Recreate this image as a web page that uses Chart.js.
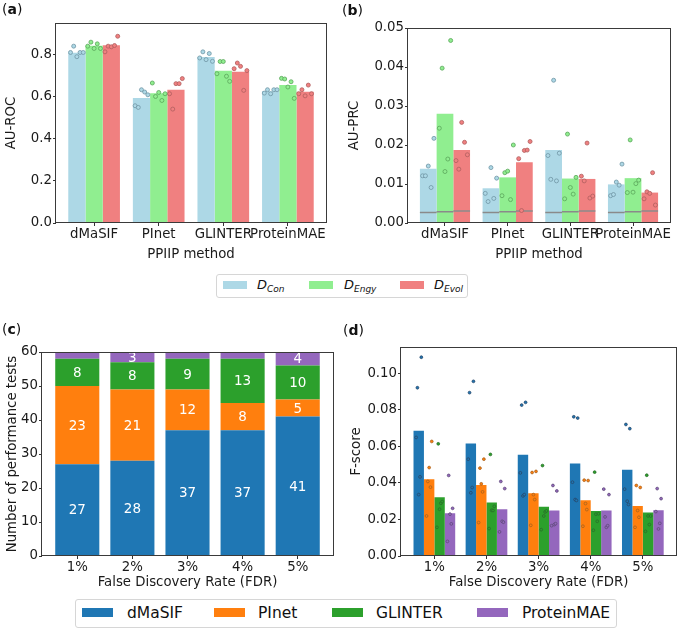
<!DOCTYPE html>
<html>
<head>
<meta charset="utf-8">
<script src="https://cdn.jsdelivr.net/npm/chart.js@4.4.1/dist/chart.umd.min.js"></script>
<style>
  body { margin: 0; background: #fff; }
  #fig { position: relative; width: 681px; height: 630px; font-family: 'DejaVu Sans', sans-serif; color: #111; overflow: hidden; }
  .panel { position: absolute; }
  .tag { position: absolute; font-size: 14px; line-height: 16px; }
  .legend { position: absolute; border: 1px solid #d6d6d6; border-radius: 3px; background: #fff; box-sizing: border-box; }
  .sw { position: absolute; }
  .lt { position: absolute; white-space: nowrap; }
  .lt sub { font-size: 9px; vertical-align: -3px; }
</style>
</head>
<body>
<div id="fig">
  <div class="panel" style="left:0;top:0"><canvas id="chartA" width="340" height="265"></canvas></div>
  <div class="panel" style="left:340px;top:0"><canvas id="chartB" width="341" height="265"></canvas></div>
  <div class="panel" style="left:0;top:300px"><canvas id="chartC" width="340" height="292"></canvas></div>
  <div class="panel" style="left:340px;top:300px"><canvas id="chartD" width="341" height="292"></canvas></div>

  <div class="tag" style="left:2px;top:1px">(<b>a</b>)</div>
  <div class="tag" style="left:342px;top:2px">(<b>b</b>)</div>
  <div class="tag" style="left:2px;top:321px">(<b>c</b>)</div>
  <div class="tag" style="left:343px;top:322px">(<b>d</b>)</div>

  <!-- legend for (a) and (b) -->
  <div class="legend" style="left:216px;top:274px;width:252px;height:24px;font-size:13px">
    <div class="sw" style="left:6px;top:6px;width:24px;height:8px;background:#add8e6"></div>
    <div class="lt" style="left:40px;top:2px"><i>D</i><sub><i>Con</i></sub></div>
    <div class="sw" style="left:92px;top:6px;width:24px;height:8px;background:#90ee90"></div>
    <div class="lt" style="left:127px;top:2px"><i>D</i><sub><i>Engy</i></sub></div>
    <div class="sw" style="left:183px;top:6px;width:24px;height:8px;background:#f08080"></div>
    <div class="lt" style="left:217px;top:2px"><i>D</i><sub><i>Evol</i></sub></div>
  </div>

  <!-- legend for (c) and (d) -->
  <div class="legend" style="left:75px;top:599px;width:542px;height:29px;font-size:15.5px">
    <div class="sw" style="left:6px;top:8px;width:31px;height:9px;background:#1f77b4"></div>
    <div class="lt" style="left:51px;top:4px">dMaSIF</div>
    <div class="sw" style="left:138px;top:8px;width:31px;height:9px;background:#ff7f0e"></div>
    <div class="lt" style="left:182px;top:4px">PInet</div>
    <div class="sw" style="left:256px;top:8px;width:31px;height:9px;background:#2ca02c"></div>
    <div class="lt" style="left:300px;top:4px">GLINTER</div>
    <div class="sw" style="left:401px;top:8px;width:31px;height:9px;background:#9467bd"></div>
    <div class="lt" style="left:446px;top:4px">ProteinMAE</div>
  </div>
</div>

<script>
// Métodos e níveis de FDR
const methods = ['dMaSIF', 'PInet', 'GLINTER', 'ProteinMAE'];
const fdrLevels = ['1%', '2%', '3%', '4%', '5%'];

// (a) AU-ROC: média por conjunto de dados
const rocCon = [0.809, 0.594, 0.789, 0.626];
const rocEngy = [0.842, 0.616, 0.723, 0.656];
const rocEvol = [0.844, 0.633, 0.718, 0.624];
// (a) execuções individuais
const rocConRuns = [[0.81, 0.84, 0.79, 0.81, 0.81], [0.557, 0.549, 0.633, 0.622, 0.609], [0.784, 0.813, 0.776, 0.805, 0.768], [0.617, 0.633, 0.614, 0.633, 0.633]];
const rocEngyRuns = [[0.84, 0.859, 0.829, 0.851, 0.829], [0.665, 0.601, 0.62, 0.582, 0.614], [0.709, 0.767, 0.767, 0.697, 0.673], [0.687, 0.684, 0.646, 0.671, 0.592]];
const rocEvolRuns = [[0.813, 0.84, 0.837, 0.843, 0.887], [0.614, 0.541, 0.662, 0.662, 0.686], [0.733, 0.76, 0.744, 0.63, 0.724], [0.614, 0.633, 0.604, 0.655, 0.614]];
const rocTicks = [0, 0.2, 0.4, 0.6, 0.8];

// (b) AU-PRC
const prcCon = [0.0139, 0.0089, 0.0187, 0.0099];
const prcEngy = [0.0280, 0.0117, 0.0114, 0.0115];
const prcEvol = [0.0187, 0.0156, 0.0113, 0.0078];
const prcConRuns = [[0.0121, 0.0121, 0.0146, 0.0091, 0.0217], [0.0076, 0.0055, 0.0142, 0.0063, 0.0115], [0.0173, 0.0112, 0.0366, 0.0108, 0.0179], [0.007, 0.0073, 0.0105, 0.0097, 0.0151]];
const prcEngyRuns = [[0.0243, 0.0397, 0.0132, 0.0164, 0.0468], [0.007, 0.0129, 0.0133, 0.006, 0.02], [0.0062, 0.0228, 0.0091, 0.0074, 0.0117], [0.0078, 0.0213, 0.0079, 0.0101, 0.011]];
const prcEvolRuns = [[0.016, 0.0138, 0.0258, 0.0207, 0.0175], [0.0165, 0.0032, 0.0186, 0.0187, 0.0209], [0.012, 0.0108, 0.0205, 0.0064, 0.0069], [0.0062, 0.008, 0.0076, 0.0129, 0.0046]];
// linha de referência aleatória (Con, Engy, Evol)
const prcRandom = [0.0027, 0.0029, 0.0031];
const prcTicks = [0, 0.01, 0.02, 0.03, 0.04, 0.05];

// (c) número de testes em que cada método foi o melhor
const countDmasif = [27, 28, 37, 37, 41];
const countPinet = [23, 21, 12, 8, 5];
const countGlinter = [8, 8, 9, 13, 10];
const countProteinmae = [2, 3, 2, 2, 4];
const countTicks = [0, 10, 20, 30, 40, 50, 60];

// (d) F-score
const fDmasif = [0.0686, 0.0616, 0.0554, 0.0506, 0.0472];
const fPinet = [0.042, 0.0388, 0.0344, 0.0305, 0.0274];
const fGlinter = [0.0322, 0.0293, 0.0269, 0.0247, 0.0238];
const fProteinmae = [0.0234, 0.0256, 0.0249, 0.0249, 0.025];
const fDmasifRuns = [[0.0649, 0.0921, 0.0336, 0.0433, 0.1088], [0.053, 0.0894, 0.0346, 0.0375, 0.0956], [0.0455, 0.0826, 0.0329, 0.0336, 0.0841], [0.0404, 0.0762, 0.0309, 0.0304, 0.0755], [0.0366, 0.072, 0.030, 0.0282, 0.0697]];
const fPinetRuns = [[0.0219, 0.0408, 0.0484, 0.0377, 0.0627], [0.0183, 0.0481, 0.0395, 0.0351, 0.053], [0.0168, 0.0457, 0.0336, 0.0309, 0.0463], [0.0163, 0.0415, 0.0287, 0.0254, 0.0413], [0.0157, 0.0386, 0.0249, 0.0212, 0.0375]];
const fGlinterRuns = [[0.0157, 0.0614, 0.0256, 0.0289, 0.0298], [0.015, 0.0556, 0.025, 0.0249, 0.0272], [0.0144, 0.0495, 0.0219, 0.0241, 0.0247], [0.0141, 0.0459, 0.0229, 0.019, 0.0231], [0.0135, 0.0442, 0.0219, 0.0172, 0.0219]];
const fProteinmaeRuns = [[0.008, 0.0441, 0.0229, 0.0176, 0.0261], [0.0132, 0.0408, 0.019, 0.0185, 0.0369], [0.0166, 0.0386, 0.0172, 0.0177, 0.0356], [0.0366, 0.0214, 0.0157, 0.0166, 0.0336], [0.0243, 0.0369, 0.0148, 0.0179, 0.0314]];
const fTicks = [0, 0.02, 0.04, 0.06, 0.08, 0.10];

// Cores
const lightColors = ['#add8e6', '#90ee90', '#f08080'];
const lightEdges = ['#7095a5', '#5aa65a', '#b05e5e'];
const tabColors = ['#1f77b4', '#ff7f0e', '#2ca02c', '#9467bd'];
const tabEdges = ['#28476a', '#a8621e', '#2a6d2a', '#5e4a78'];

Chart.defaults.font.family = "'DejaVu Sans', sans-serif";
Chart.defaults.font.size = 13.3;
Chart.defaults.color = '#1a1a1a';
Chart.defaults.animation = false;
Chart.defaults.plugins.legend.display = false;
Chart.defaults.plugins.tooltip.enabled = false;

// Moldura completa em volta da área do gráfico (como no matplotlib)
const framePlugin = {
    id: 'frame',
    afterDraw(chart) {
        const a = chart.chartArea;
        const ctx = chart.ctx;
        ctx.save();
        ctx.strokeStyle = '#3a3a3a';
        ctx.lineWidth = 1;
        ctx.strokeRect(Math.round(a.left) - 0.5, Math.round(a.top) + 0.5,
            Math.round(a.right - a.left) + 1, Math.round(a.bottom - a.top) - 1);
        ctx.restore();
    }
};

// Rótulos brancos dentro das barras empilhadas
const countLabels = {
    id: 'countLabels',
    afterDatasetsDraw(chart) {
        const ctx = chart.ctx;
        ctx.save();
        ctx.fillStyle = '#fff';
        ctx.font = "13.5px 'DejaVu Sans'";
        ctx.textAlign = 'center';
        ctx.textBaseline = 'middle';
        chart.data.datasets.forEach((ds, d) => {
            chart.getDatasetMeta(d).data.forEach((bar, i) => {
                const v = ds.data[i].y;
                if (v >= 3) ctx.fillText(v, bar.x, (bar.y + bar.base) / 2 + 1);
            });
        });
        ctx.restore();
    }
};

function xAxis(labels, title, height, titlePad) {
    // margem de 5% como o matplotlib faz em volta das barras
    const pad = 0.05 * (labels.length - 1 + 0.8);
    return {
        type: 'linear',
        min: -0.4 - pad,
        max: labels.length - 0.6 + pad,
        offset: false,
        grid: { drawOnChartArea: false, tickLength: 3, color: '#333', offset: false },
        border: { display: false },
        afterBuildTicks: s => { s.ticks = labels.map((l, i) => ({ value: i })); },
        ticks: { autoSkip: false, maxRotation: 0, padding: 1, callback: v => labels[v] },
        title: { display: true, text: title, padding: { top: 0, bottom: titlePad } },
        afterFit: s => { s.height = height; }
    };
}

function yAxis(ticks, max, digits, title, width, titlePad) {
    return {
        min: 0,
        max: max,
        grid: { drawOnChartArea: false, tickLength: 3, color: '#333' },
        border: { display: false },
        afterBuildTicks: s => { s.ticks = ticks.map(v => ({ value: v })); },
        ticks: { padding: 1, callback: v => Number(v).toFixed(digits) },
        title: { display: true, text: title, padding: { top: titlePad, bottom: 0 } },
        afterFit: s => { s.width = width; }
    };
}

function barSet(label, vals, color) {
    return {
        type: 'bar',
        label: label,
        data: vals.map((y, i) => ({ x: i, y: y })),
        backgroundColor: color,
        borderWidth: 0,
        categoryPercentage: 0.8,
        barPercentage: 1,
        order: 2
    };
}

// Pontos das execuções, espalhados de forma regular dentro da barra
function runDots(runs, k, nBars, fill, edge, spread, radius) {
    const w = 0.8 / nBars;
    const pts = [];
    runs.forEach((vals, i) => {
        vals.forEach((y, j) => {
            const jitter = (j / (vals.length - 1) - 0.5) * spread * w;
            pts.push({ x: i + (k - (nBars - 1) / 2) * w + jitter, y: y });
        });
    });
    return {
        type: 'scatter',
        data: pts,
        pointRadius: radius,
        pointBorderWidth: 0.8,
        pointBackgroundColor: fill,
        pointBorderColor: edge,
        order: 0
    };
}

function baselineSegments(level, k, nBars, n) {
    const w = 0.8 / nBars;
    const pts = [];
    for (let i = 0; i < n; i++) {
        const c = i + (k - (nBars - 1) / 2) * w;
        pts.push({ x: c - w / 2, y: level }, { x: c + w / 2, y: level }, { x: c + w / 2, y: null });
    }
    return {
        type: 'line',
        data: pts,
        borderColor: '#8a8a8a',
        borderWidth: 1.5,
        pointRadius: 0,
        spanGaps: false,
        order: 1
    };
}

// (a) AU-ROC
const rocMeans = [rocCon, rocEngy, rocEvol];
const rocRuns = [rocConRuns, rocEngyRuns, rocEvolRuns];
new Chart(document.getElementById('chartA'), {
    type: 'bar',
    data: {
        datasets: [
            ...rocRuns.map((r, k) => runDots(r, k, 3, lightColors[k], lightEdges[k], 0.74, 2)),
            ...rocMeans.map((m, k) => barSet('D' + k, m, lightColors[k]))
        ]
    },
    options: {
        responsive: false,
        layout: { padding: { left: 0, top: 23, right: 14, bottom: 0 } },
        scales: {
            x: xAxis(methods, 'PPIIP method', 42, 2),
            y: yAxis(rocTicks, 0.95, 1, 'AU-ROC', 56, 3.5)
        }
    },
    plugins: [framePlugin]
});

// (b) AU-PRC
const prcMeans = [prcCon, prcEngy, prcEvol];
const prcRuns = [prcConRuns, prcEngyRuns, prcEvolRuns];
new Chart(document.getElementById('chartB'), {
    type: 'bar',
    data: {
        datasets: [
            ...prcRuns.map((r, k) => runDots(r, k, 3, lightColors[k], lightEdges[k], 0.68, 2)),
            ...prcRandom.map((lv, k) => baselineSegments(lv, k, 3, methods.length)),
            ...prcMeans.map((m, k) => barSet('D' + k, m, lightColors[k]))
        ]
    },
    options: {
        responsive: false,
        layout: { padding: { left: 0, top: 28, right: 11, bottom: 0 } },
        scales: {
            x: xAxis(methods, 'PPIIP method', 42, 2),
            y: yAxis(prcTicks, 0.05, 2, 'AU-PRC', 68, 6.5)
        }
    },
    plugins: [framePlugin]
});

// (c) contagem empilhada
const counts = [countDmasif, countPinet, countGlinter, countProteinmae];
const xC = xAxis(fdrLevels, 'False Discovery Rate (FDR)', 36, 1);
xC.stacked = true;
const yC = yAxis(countTicks, 60, 0, 'Number of performance tests', 42, 4.5);
yC.stacked = true;
new Chart(document.getElementById('chartC'), {
    type: 'bar',
    data: {
        datasets: counts.map((c, k) => barSet(methods[k], c, tabColors[k]))
    },
    options: {
        responsive: false,
        layout: { padding: { left: 0, top: 52, right: 7, bottom: 0 } },
        scales: { x: xC, y: yC }
    },
    plugins: [countLabels, framePlugin]
});

// (d) F-score
const fMeans = [fDmasif, fPinet, fGlinter, fProteinmae];
const fRuns = [fDmasifRuns, fPinetRuns, fGlinterRuns, fProteinmaeRuns];
new Chart(document.getElementById('chartD'), {
    type: 'bar',
    data: {
        datasets: [
            ...fRuns.map((r, k) => runDots(r, k, 4, tabColors[k], tabEdges[k], 0.5, 1.4)),
            ...fMeans.map((m, k) => barSet(methods[k], m, tabColors[k]))
        ]
    },
    options: {
        responsive: false,
        layout: { padding: { left: 0, top: 47, right: 4, bottom: 0 } },
        scales: {
            x: xAxis(fdrLevels, 'False Discovery Rate (FDR)', 36, 1),
            y: yAxis(fTicks, 0.1144, 2, 'F-score', 61, 8.5)
        }
    },
    plugins: [framePlugin]
});
</script>
</body>
</html>
